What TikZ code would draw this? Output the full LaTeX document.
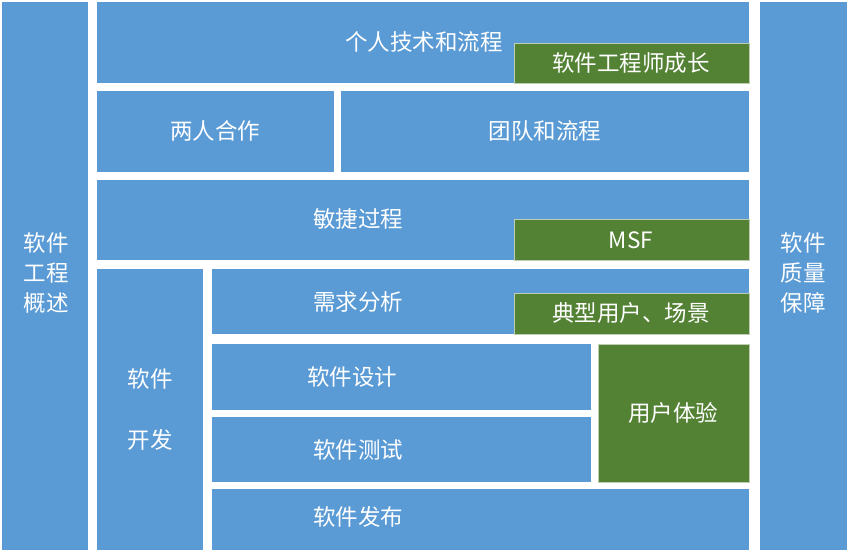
\documentclass[tikz,border=0pt]{standalone}
\usepackage{fontspec}
\setmainfont{Noto Sans CJK SC}
\begin{document}
\begin{tikzpicture}[x=1pt,y=-1pt,
  blue/.style={fill={rgb,255:red,91;green,155;blue,213}},
  green/.style={fill={rgb,255:red,84;green,130;blue,53},draw={rgb,255:red,190;green,205;blue,180},line width=0.6pt},
  lab/.style={text=white,font=\fontsize{22.5}{26}\selectfont,inner sep=0pt}]
\fill[white] (0,0) rectangle (849,557);
\useasboundingbox (0,0) rectangle (849,557);
% blue blocks
\fill[blue] (2,2) rectangle (88,550);
\fill[blue] (760,2) rectangle (847,550);
\fill[blue] (97,2) rectangle (749,83);
\fill[blue] (97,91) rectangle (334,172);
\fill[blue] (341,91) rectangle (749,172);
\fill[blue] (97,180) rectangle (749,260);
\fill[blue] (97,269) rectangle (203,550);
\fill[blue] (212,269) rectangle (749,334);
\fill[blue] (212,344) rectangle (591,410);
\fill[blue] (212,417) rectangle (591,482);
\fill[blue] (212,489) rectangle (749,550);
% green blocks
\draw[green] (514,43) rectangle (749,83);
\draw[green] (514,219) rectangle (749,260);
\draw[green] (514,293) rectangle (749,334);
\draw[green] (598,344) rectangle (749,482);
% labels
\node[lab] (l1) at (46,243) {软件};
\node[lab] (l2) at (46,273) {工程};
\node[lab] (l3) at (46,303) {概述};
\node[lab] (r1) at (803,243) {软件};
\node[lab] (r2) at (803,273) {质量};
\node[lab] (r3) at (803,303) {保障};
\node[lab] (a) at (424,42) {个人技术和流程};
\node[lab] (a2) at (631,63) {软件工程师成长};
\node[lab] (b) at (215,131) {两人合作};
\node[lab] (c) at (545,131) {团队和流程};
\node[lab] (d) at (358,219) {敏捷过程};
\node[lab] (d2) at (631,240) {MSF};
\node[lab] (e1) at (150,379) {软件};
\node[lab] (e2) at (150,440) {开发};
\node[lab] (f) at (358,302) {需求分析};
\node[lab] (f2) at (631,313) {典型用户、场景};
\node[lab] (g) at (352,377) {软件设计};
\node[lab] (h) at (358,450) {软件测试};
\node[lab] (i) at (673,413) {用户体验};
\node[lab] (j) at (358,517) {软件发布};
\end{tikzpicture}
\end{document}
